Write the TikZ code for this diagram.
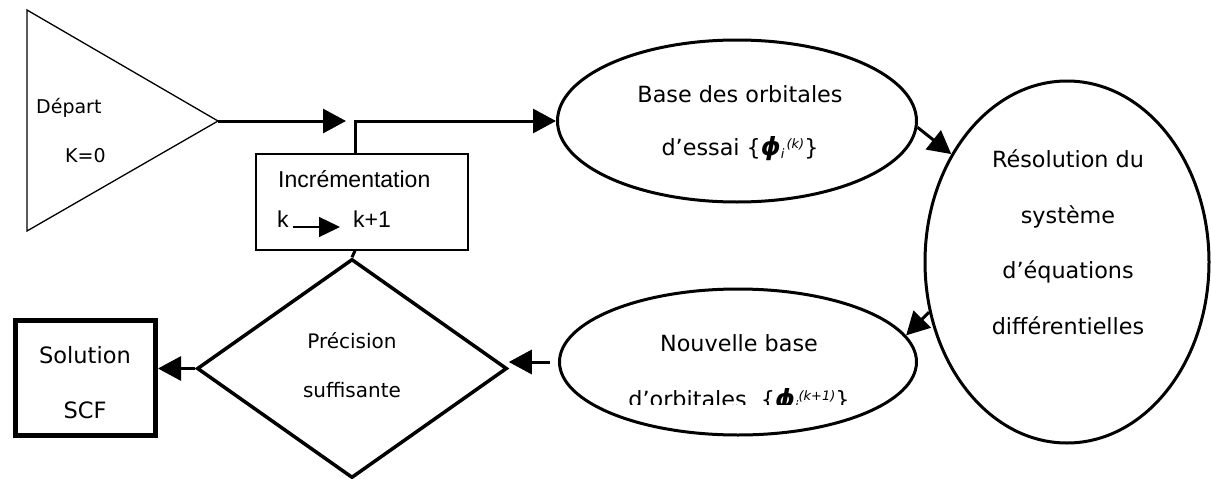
\documentclass[tikz,border=0pt]{standalone}
\usepackage{fontspec}
\setmainfont{DejaVu Sans}
\newfontfamily\arialf{Liberation Sans}
\usetikzlibrary{shapes.geometric,arrows.meta}
\newcommand{\phisym}{{\bfseries\itshape\fontsize{25}{26}\selectfont ϕ}}
\newcommand{\smallit}{\itshape\fontsize{13}{13}\selectfont}
\begin{document}
\begin{tikzpicture}[x=1pt,y=-1pt,
  shp/.style={draw, line width=3pt, inner sep=0pt},
  arr/.style={line width=3pt, -{Triangle[length=23pt,width=24pt]}},
  txt/.style={inner sep=0pt, anchor=base, font=\fontsize{22.3}{26}\selectfont},
  smalltxt/.style={inner sep=0pt, anchor=base west, font=\fontsize{19}{22}\selectfont},
  inctxt/.style={inner sep=0pt, anchor=base west, font=\arialf\fontsize{23}{26}\selectfont},
]
\useasboundingbox (0,0) rectangle (1211,479);

% start triangle
\coordinate (apex) at (218,121);
\draw[line width=1.3pt, line join=miter] (27,10) -- (apex) -- (27,231) -- cycle;
\node[smalltxt] (dep) at (36,113) {Départ};
\node[smalltxt] (k0) at (65,162) {K=0};
\coordinate (tipA) at (346,121);

% increment box
\node[draw, line width=1.5pt, minimum width=212pt, minimum height=96pt, inner sep=0pt] (inc) at (362,202) {};
\node[inctxt] (inct) at (278,187) {Incrémentation};
\node[inctxt] (kk) at (277,227) {k};
\node[inctxt] (kp) at (353,227) {k+1};

% ellipse 1
\node[shp, ellipse, minimum width=359pt, minimum height=162pt] (e1) at (737,121) {};
\node[txt] (e1a) at (740,102) {Base des orbitales};
\node[txt] (e1b) at (740,155) {d’essai \{\phisym{\smallit\raisebox{-3pt}{i}\,\raisebox{7pt}{(k)}}\}};

% circle
\node[shp, ellipse, minimum width=284pt, minimum height=362pt] (c) at (1067,262) {};
\node[txt] (c1) at (1068,167) {Résolution du};
\node[txt] (c2) at (1068,223) {système};
\node[txt] (c3) at (1068,278) {d’équations};
\node[txt] (c4) at (1068,334) {différentielles};

% ellipse 2
\node[shp, ellipse, minimum width=357pt, minimum height=146pt] (e2) at (738,362) {};
\node[txt] (e2a) at (739,351) {Nouvelle base};
\begin{scope}
\clip (540,360) rectangle (940,404);
\node[txt] (e2b) at (739,407) {d’orbitales\ \ \{\phisym{\smallit\raisebox{-3pt}{i}\raisebox{7pt}{(k+1)}}\}};
\end{scope}

% diamond
\node[shp, diamond, line width=3.5pt, minimum width=310pt, minimum height=219pt] (dia) at (352,368.5) {};
\node[txt, font=\fontsize{20}{24}\selectfont] (d1) at (352,348) {Précision};
\node[txt, font=\fontsize{20}{24}\selectfont] (d2) at (352,397) {suffisante};

% solution box
\node[draw, line width=5pt, minimum width=140pt, minimum height=115pt, inner sep=0pt] (sol) at (85.5,378) {};
\node[txt, font=\fontsize{22.5}{26}\selectfont] (s1) at (85,363) {Solution};
\node[txt, font=\fontsize{22.5}{26}\selectfont] (s2) at (85,418) {SCF};

% connectors
\draw[arr] (apex) -- (tipA);
\draw[arr] ([xshift=-7pt]inc.north) |- (e1.west);
\draw[arr] (e1.-2) -- (c.137.5);
\draw[arr] (c.200.5) -- (e2.9.85);
\draw[arr, shorten <=8pt] (e2.west) -- (e2.west -| dia.east);
\draw[arr] (dia.west) -- (dia.west -| sol.east);
\draw[line width=3pt] ([xshift=-7pt]inc.south) -- (dia.north);
\draw[line width=1.3pt, -{Triangle[length=21pt,width=20pt]}] ([xshift=4pt]kk.base east) -- ([xshift=-13pt]kp.base west);
\end{tikzpicture}
\end{document}
